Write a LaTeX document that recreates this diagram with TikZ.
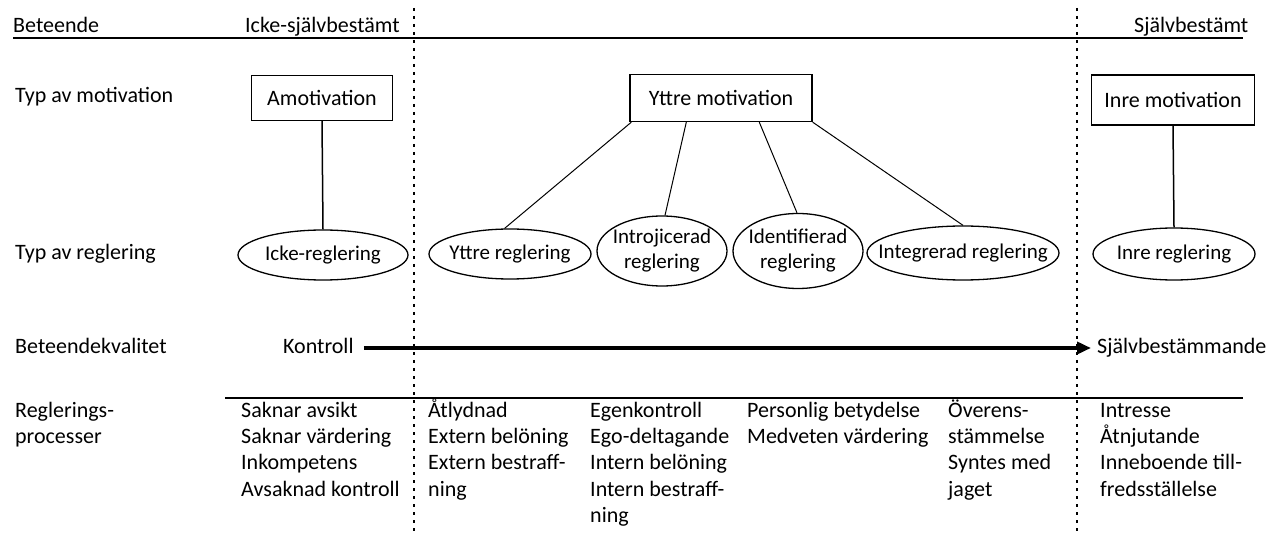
\documentclass[tikz,border=0pt]{standalone}
\usepackage{fontspec}
\setmainfont{Carlito}
\usetikzlibrary{shapes.geometric,arrows.meta}
\newcommand{\firstline}{\rule{0pt}{19pt}}
\tikzset{
  motbox/.style={draw,line width=1.4pt,inner sep=0pt},
  regell/.style={draw,ellipse,line width=1.3pt,inner sep=-20pt,align=center,font=\fontsize{21}{25}\selectfont},
  rowlabel/.style={anchor=base west,inner sep=0pt},
  proclist/.style={anchor=north west,inner sep=0pt,align=left},
  divider/.style={line width=2.4pt,dash pattern=on 3pt off 5pt},
  tie/.style={line width=1pt},
}
\begin{document}
\begin{tikzpicture}[x=1pt,y=-1pt,font=\fontsize{22}{26.3}\selectfont]
\useasboundingbox (0,0) rectangle (1271,534);
\node[rowlabel] (beteende) at (13,33) {Beteende};
\node[rowlabel] (ickesb) at (245,33) {Icke-självbestämt};
\node[rowlabel] (sb) at (1134,33) {Självbestämt};
\node[rowlabel] (typmot) at (15,103) {Typ av motivation};
\node[rowlabel] (typreg) at (15,260) {Typ av reglering};
\node[rowlabel] (bkval) at (15,353) {Beteendekvalitet};
\node[proclist] (regproc) at (15,398) {\firstline Reglerings-\\processer};

\draw[line width=1.3pt] (13,38) -- (1243,38);
\draw[line width=1.3pt] (225,398) -- (1243,398);
\draw[divider] (414,8) -- (414,532);
\draw[divider] (1077,8) -- (1077,532);

\node[motbox,minimum width=141,minimum height=45] (amot) at (322,98) {Amotivation};
\node[motbox,minimum width=182,minimum height=47] (ytmot) at (721,98) {Yttre motivation};
\node[motbox,minimum width=163,minimum height=50] (inmot) at (1173,100) {Inre motivation};

\node[regell,minimum width=170,minimum height=50] (ickereg) at (323,255) {Icke-reglering};
\node[regell,minimum width=162,minimum height=50] (ytreg) at (510,254) {Yttre reglering};
\node[regell,minimum width=130,minimum height=70] (intro) at (662,251) {Introjicerad\\reglering};
\node[regell,minimum width=130,minimum height=75] (ident) at (798,251) {Identifierad\\reglering};
\node[regell,minimum width=192,minimum height=54] (integ) at (963,253) {Integrerad reglering};
\node[regell,minimum width=162,minimum height=52] (inreg) at (1174,254) {Inre reglering};

\draw[tie,line width=1.5pt] (amot.south) -- (ickereg.north);
\draw[tie,line width=1.5pt] (inmot.south) -- (inreg.north);
\draw[tie] ([xshift=2pt]ytmot.south west) -- (ytreg.102);
\draw[tie] ([xshift=57pt]ytmot.south west) -- ([xshift=3pt]intro.north);
\draw[tie] ([xshift=130pt]ytmot.south west) -- ([xshift=-1pt]ident.north);
\draw[tie] (ytmot.south east) -- (integ.north);

\node[rowlabel] (kontroll) at (283,353) {Kontroll};
\node[rowlabel] (sbm) at (1097,353) {Självbestämmande};
\draw[line width=4pt,-{Triangle[length=14pt,width=12pt]}] ([xshift=10pt,yshift=5pt]kontroll.base east) -- ([xshift=-6pt,yshift=5pt]sbm.base west);

\node[proclist] (p1) at (241,398) {\firstline Saknar avsikt\\Saknar värdering\\Inkompetens\\Avsaknad kontroll};
\node[proclist] (p2) at (428,398) {\firstline Åtlydnad\\Extern belöning\\Extern bestraff-\\ning};
\node[proclist] (p3) at (590,398) {\firstline Egenkontroll\\Ego-deltagande\\Intern belöning\\Intern bestraff-\\ning};
\node[proclist] (p4) at (747,398) {\firstline Personlig betydelse\\Medveten värdering};
\node[proclist] (p5) at (948,398) {\firstline Överens-\\stämmelse\\Syntes med\\jaget};
\node[proclist] (p6) at (1100,398) {\firstline Intresse\\Åtnjutande\\Inneboende till-\\fredsställelse};
\end{tikzpicture}
\end{document}
